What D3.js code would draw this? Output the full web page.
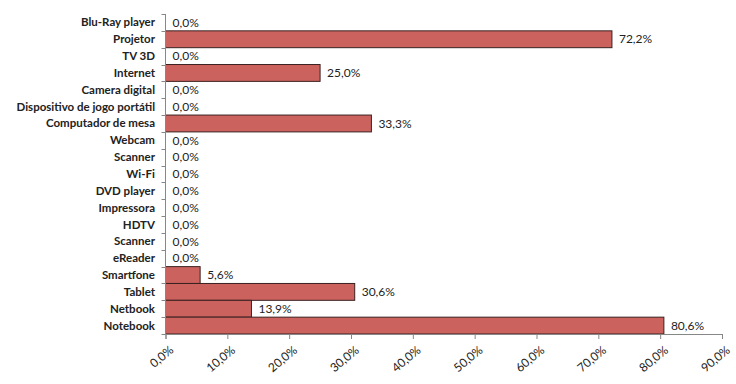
<!DOCTYPE html>
<html>
<head>
<meta charset="utf-8">
<script src="https://cdn.jsdelivr.net/npm/d3@7"></script>
<style>
  body { margin: 0; background: #fff; }
  svg { font-family: Lato, "Liberation Sans", sans-serif; }
</style>
</head>
<body>
<svg id="chart" width="736" height="384"></svg>
<script>
// categories top to bottom
const categories = ["Blu-Ray player", "Projetor", "TV 3D", "Internet", "Camera digital",
  "Dispositivo de jogo portátil", "Computador de mesa", "Webcam", "Scanner", "Wi-Fi",
  "DVD player", "Impressora", "HDTV", "Scanner", "eReader", "Smartfone", "Tablet",
  "Netbook", "Notebook"];
const values = [0, 72.2, 0, 25.0, 0, 0, 33.3, 0, 0, 0, 0, 0, 0, 0, 0, 5.6, 30.6, 13.9, 80.6];
const xTicks = [0, 10, 20, 30, 40, 50, 60, 70, 80, 90];

const svg = d3.select("#chart");
const margin = { top: 14, left: 165.5 };
const plotBottom = 334;

const fmt = v => v.toFixed(1).replace(".", ",") + "%";
const rows = values.map((v, i) => ({ i, v, name: categories[i] }));

const x = d3.scaleLinear().domain([0, 90]).range([margin.left, 722]);
const y = d3.scaleBand()
  .domain(d3.range(categories.length))
  .range([margin.top, plotBottom])
  .padding(0);

const axisColor = "#878787";

// bars
svg.append("g").selectAll("rect")
  .data(rows.filter(d => d.v > 0))
  .join("rect")
  .attr("x", x(0))
  .attr("y", d => y(d.i))
  .attr("width", d => x(d.v) - x(0))
  .attr("height", y.bandwidth())
  .attr("fill", "#cc625e")
  .attr("stroke", "#3a2120")
  .attr("stroke-width", 1);

// y axis line + ticks at band boundaries
const yAx = svg.append("g");
yAx.append("line")
  .attr("x1", x(0)).attr("x2", x(0))
  .attr("y1", margin.top).attr("y2", plotBottom)
  .attr("stroke", axisColor);
yAx.selectAll("line.tick")
  .data(d3.range(categories.length + 1))
  .join("line")
  .attr("class", "tick")
  .attr("x1", x(0) - 4).attr("x2", x(0))
  .attr("y1", i => Math.round(margin.top + i * y.step()) + 0.5)
  .attr("y2", i => Math.round(margin.top + i * y.step()) + 0.5)
  .attr("stroke", axisColor);

// category labels
svg.append("g").selectAll("text")
  .data(rows)
  .join("text")
  .attr("x", 155)
  .attr("y", d => y(d.i) + y.bandwidth() / 2)
  .attr("dy", "0.35em")
  .attr("text-anchor", "end")
  .style("font-size", "11.5px")
  .style("font-weight", "bold")
  .attr("fill", "#222")
  .text(d => d.name);

// x axis
const xAxis = d3.axisBottom(x)
  .tickValues(xTicks)
  .tickSize(5)
  .tickFormat(fmt);
const gx = svg.append("g")
  .attr("transform", `translate(0,${plotBottom})`)
  .call(xAxis);
gx.select(".domain").attr("stroke", axisColor);
gx.selectAll(".tick line").attr("stroke", axisColor);
gx.selectAll(".tick text")
  .attr("text-anchor", "end")
  .attr("transform", "translate(3,11) rotate(-40)")
  .attr("dy", "0.7em")
  .attr("y", 0)
  .style("font-size", "12px")
  .style("font-family", "Lato, 'Liberation Sans', sans-serif")
  .attr("fill", "#222");

// value labels
svg.append("g").selectAll("text")
  .data(rows)
  .join("text")
  .attr("x", d => x(d.v) + 7)
  .attr("y", d => y(d.i) + y.bandwidth() / 2)
  .attr("dy", "0.35em")
  .style("font-size", "12px")
  .attr("fill", "#222")
  .text(d => fmt(d.v));
</script>
</body>
</html>
